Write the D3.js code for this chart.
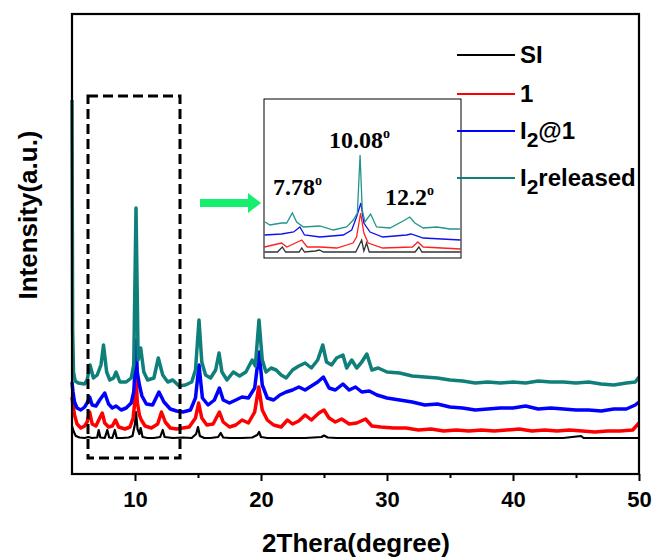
<!DOCTYPE html>
<html><head><meta charset="utf-8">
<script src="https://cdn.jsdelivr.net/npm/d3@7/dist/d3.min.js"></script>
<style>body{margin:0;background:#fff}svg{display:block}</style>
</head><body>
<svg id="c" width="655" height="557"></svg>
<script>
// ---- data (2θ, intensity a.u.) ----
const seriesNames = ["SI", "1", "I2@1", "I2released"];
const seriesColors = ["#000000", "#ff0000", "#0000ff", "#0f7f7a"];
const xTicks = [10, 20, 30, 40, 50];
const xMinorTicks = [15, 25, 35, 45];

const dataSI = [[5.0,48],[5.15,42],[5.3,38],[5.6,36.5],[6.0,36],[6.3,37],[6.6,36],[7.0,36.5],[7.12,44],[7.25,36.5],[7.6,36],[7.8,44],[7.95,36.5],[8.2,36],[8.4,44],[8.55,36],[9.0,36],[9.5,36.5],[9.8,38],[10.0,50],[10.08,62],[10.2,45],[10.35,40],[10.45,46],[10.6,37],[11.0,36],[11.5,36],[12.0,37],[12.2,44],[12.35,37],[13.0,36],[13.8,36.5],[14.5,36],[14.85,40],[15.0,47],[15.15,38],[15.5,36],[16.0,36],[16.6,37],[16.8,41],[17.0,36.5],[17.5,36],[18.5,36],[19.3,36.5],[19.7,39],[19.85,42],[20.0,37],[20.5,36],[21.5,36],[22.5,36],[23.5,36],[24.8,37],[25.0,38.5],[25.3,36.5],[26,36],[27,36],[28,36],[29,36],[30,36],[32,36],[34,36],[36,36],[38,36],[40,36],[42,36],[44,36],[45.4,38],[45.6,36],[48,36],[50,36]];

const data1 = [[5.0,77],[5.08,69],[5.2,59],[5.4,50],[5.7,46],[6.0,48],[6.2,52],[6.4,62],[6.6,50],[6.9,48],[7.2,56],[7.4,61],[7.6,51],[7.9,47],[8.2,48],[8.45,54],[8.7,47],[9.2,45],[9.6,47],[9.85,56],[10.0,74],[10.08,99],[10.18,72],[10.35,59],[10.5,54],[10.8,48],[11.3,46],[11.8,50],[12.1,62],[12.4,52],[12.8,46],[13.3,45],[13.8,46],[14.3,47],[14.8,56],[15.05,71],[15.3,56],[15.7,49],[16.2,50],[16.7,62],[17.0,52],[17.5,47],[18.0,49],[18.5,54],[19.0,51],[19.5,62],[19.82,87],[20.1,64],[20.5,54],[21.0,49],[21.6,47],[22.1,54],[22.5,50],[23.0,53],[23.5,59],[24.0,54],[24.6,61],[25.0,64],[25.4,56],[25.9,52],[26.4,55],[27.0,50],[27.6,51],[28.3,55],[28.8,48],[29.5,47],[30.5,46],[31.5,46],[32.5,44],[33.5,45],[34.5,43],[35.5,44],[36.5,43],[37.5,44],[38.5,43],[39.5,44],[40.5,45],[41.5,43],[42.5,44],[43.5,43],[44.5,44],[45.5,43],[46.5,42],[47.5,43],[48.5,43],[49.5,44],[50.0,51]];

const dataI2 = [[5.0,92],[5.08,82],[5.2,72],[5.4,66],[5.7,64],[6.0,67],[6.2,71],[6.4,77],[6.6,69],[6.9,68],[7.2,74],[7.6,81],[7.9,70],[8.2,66],[8.5,68],[8.9,64],[9.3,66],[9.7,71],[9.9,82],[10.0,104],[10.08,134],[10.18,102],[10.35,89],[10.55,78],[10.9,70],[11.4,69],[11.9,82],[12.3,72],[12.8,65],[13.3,63],[13.8,62],[14.4,64],[14.8,76],[15.08,109],[15.35,76],[15.8,69],[16.3,74],[16.7,86],[17.0,74],[17.5,71],[18.0,74],[18.5,77],[19.0,76],[19.5,86],[19.85,122],[20.1,89],[20.5,76],[21.0,74],[21.5,79],[22.0,82],[22.5,84],[23.0,87],[23.5,84],[24.0,88],[24.5,92],[24.95,97],[25.4,86],[25.9,84],[26.5,90],[27.0,84],[27.5,87],[28.0,82],[28.6,83],[29.2,79],[30.0,76],[31.0,74],[32.0,72],[33.0,69],[34.0,70],[35.0,67],[36.0,66],[37.0,64],[38.0,65],[39.0,66],[40.0,66],[41.0,68],[42.0,65],[43.0,66],[44.0,65],[45.0,64],[46.0,64],[47.0,63],[48.0,65],[49.0,65],[49.7,69],[50.0,72]];

const dataRel = [[5.0,374],[5.05,144],[5.12,102],[5.25,93],[5.5,91],[6.0,90],[6.2,94],[6.43,109],[6.7,96],[7.0,99],[7.3,109],[7.5,129],[7.75,102],[8.0,94],[8.3,96],[8.5,102],[8.8,92],[9.3,92],[9.7,96],[9.9,109],[10.08,266],[10.25,114],[10.45,126],[10.7,102],[11.0,94],[11.5,96],[11.85,116],[12.2,99],[12.6,92],[13.0,94],[13.5,88],[14.0,89],[14.5,92],[14.8,104],[15.08,154],[15.3,112],[15.6,99],[16.0,96],[16.4,104],[16.67,121],[16.9,102],[17.3,94],[17.8,102],[18.3,98],[18.8,102],[19.3,114],[19.55,108],[19.84,154],[20.1,114],[20.4,102],[20.8,106],[21.2,104],[21.6,99],[22.0,96],[22.5,104],[23.0,108],[23.5,111],[24.0,106],[24.5,114],[24.9,129],[25.2,112],[25.6,109],[26.0,116],[26.5,119],[26.8,106],[27.2,114],[27.6,106],[28.0,112],[28.4,120],[28.8,104],[29.3,106],[30.0,102],[31.0,101],[32.0,98],[33.0,97],[34.0,96],[35.0,94],[36.0,93],[37.0,91],[38.0,92],[39.0,91],[40.0,92],[41.0,91],[42.0,93],[43.0,92],[44.0,92],[45.0,91],[46.0,92],[47.0,90],[48.0,89],[49.0,91],[49.7,92],[50.0,97]];

// inset (zoomed 2θ window)
const insetSI = [[6.52,6],[7.0,6],[7.18,11],[7.3,6],[7.8,6],[7.9,10],[8.0,6],[8.4,7],[8.55,8],[8.7,6],[9.9,6],[10.12,18],[10.2,7],[10.3,15],[10.4,6],[12.1,6],[12.24,11],[12.35,6],[13.78,6]];
const inset1 = [[6.52,11],[7.15,15],[7.35,11],[7.9,18],[8.1,11],[8.57,11],[9.2,10],[9.8,15],[9.93,21],[10.08,45],[10.2,25],[10.36,15],[10.9,10],[12.0,11],[12.2,16],[12.4,11],[13.78,9]];
const insetI2 = [[6.52,23],[7.15,24],[7.6,26],[7.83,31],[8.0,23],[8.57,21],[9.44,23],[9.75,28],[9.93,41],[10.09,55],[10.2,35],[10.43,26],[10.9,21],[11.78,23],[11.95,24],[12.4,20],[13.78,18]];
const insetRel = [[6.54,36],[6.72,33],[7.15,35],[7.34,35],[7.55,45],[7.71,36],[7.96,31],[8.57,32],[9.07,28],[9.56,31],[9.81,38],[9.96,45],[10.06,103],[10.14,48],[10.24,36],[10.45,44],[10.67,31],[11.17,30],[11.72,38],[11.9,41],[12.09,35],[12.4,30],[12.9,31],[13.39,29],[13.76,29]];

const mainSeries = [dataSI, data1, dataI2, dataRel];
const insetSeries = [insetSI, inset1, insetI2, insetRel];

// ---- drawing ----
const svg = d3.select("#c");
const x = d3.scaleLinear().domain([5, 50]).range([72, 639]);
const y = d3.scaleLinear().domain([0, 460]).range([474, 14]);

const line = d3.line().x(d => x(d[0])).y(d => y(d[1]));
const widths = [2.2, 3.5, 3.5, 3.5];
mainSeries.forEach((s, i) => {
  svg.append("path").datum(s).attr("d", line)
    .attr("fill", "none").attr("stroke", seriesColors[i])
    .attr("stroke-width", widths[i]).attr("stroke-linejoin", "round");
});

// frame
svg.append("rect").attr("x", 72).attr("y", 14).attr("width", 567).attr("height", 460)
  .attr("fill", "none").attr("stroke", "#000").attr("stroke-width", 2.2);

// axes
const ax = svg.append("g").attr("transform", "translate(0,474)")
  .call(d3.axisBottom(x).tickValues(xTicks).tickSize(7).tickPadding(10).tickFormat(d3.format("d")));
ax.select(".domain").remove();
ax.selectAll("line").attr("stroke-width", 2);
ax.selectAll("text").attr("font-family", "Liberation Sans, Arial, sans-serif")
  .attr("font-weight", "bold").attr("font-size", 22).attr("fill", "#000");
const axm = svg.append("g").attr("transform", "translate(0,474)")
  .call(d3.axisBottom(x).tickValues(xMinorTicks).tickSize(4).tickFormat(""));
axm.select(".domain").remove();
axm.selectAll("line").attr("stroke-width", 2);

// axis titles
svg.append("text").attr("x", 356).attr("y", 552).attr("text-anchor", "middle")
  .attr("font-family", "Liberation Sans, Arial, sans-serif").attr("font-weight", "bold")
  .attr("font-size", 26).text("2Thera(degree)");
svg.append("text").attr("transform", "translate(37,215) rotate(-90)").attr("text-anchor", "middle")
  .attr("font-family", "Liberation Sans, Arial, sans-serif").attr("font-weight", "bold")
  .attr("font-size", 26).text("Intensity(a.u.)");

// dashed box
svg.append("rect").attr("x", 88).attr("y", 96).attr("width", 92).attr("height", 362)
  .attr("fill", "none").attr("stroke", "#000").attr("stroke-width", 3)
  .attr("stroke-dasharray", "10,5");

// green arrow
svg.append("path").attr("d", "M200,199 L248,199 L248,193 L261,203 L248,213 L248,207 L200,207 Z")
  .attr("fill", "#14ef6e");

// inset
const ix = d3.scaleLinear().domain([6.5, 13.8]).range([264, 461]);
const iy = d3.scaleLinear().domain([0, 159]).range([258, 99]);
const iline = d3.line().x(d => ix(d[0])).y(d => iy(d[1]));
const insetColors = ["#333333", "#ff2020", "#1010ee", "#23948e"];
insetSeries.forEach((s, i) => {
  svg.append("path").datum(s).attr("d", iline).attr("fill", "none")
    .attr("stroke", insetColors[i]).attr("stroke-width", 1.3);
});
svg.append("rect").attr("x", 264).attr("y", 99).attr("width", 197).attr("height", 159)
  .attr("fill", "none").attr("stroke", "#000").attr("stroke-width", 1);

const insetLabels = [["10.08", 329, 148], ["7.78", 273, 195], ["12.2", 385, 205]];
insetLabels.forEach(l => {
  const t = svg.append("text").attr("x", l[1]).attr("y", l[2])
    .attr("font-family", "Liberation Serif, Times New Roman, serif").attr("font-weight", "bold")
    .attr("font-size", 24);
  t.append("tspan").text(l[0]);
  t.append("tspan").attr("dy", -10).attr("font-size", 14).text("o");
});

// legend
const legY = [55, 94, 131, 178];
const lg = svg.append("g").attr("font-family", "Liberation Sans, Arial, sans-serif")
  .attr("font-weight", "bold").attr("font-size", 24);
seriesNames.forEach((n, i) => {
  lg.append("line").attr("x1", 457).attr("x2", 515).attr("y1", legY[i]).attr("y2", legY[i])
    .attr("stroke", seriesColors[i]).attr("stroke-width", 2);
  const t = lg.append("text").attr("x", 520).attr("y", legY[i] + 8);
  if (n.startsWith("I2")) {
    t.append("tspan").text("I");
    t.append("tspan").attr("dy", 8).attr("font-size", 21).text("2");
    t.append("tspan").attr("dy", -8).text(n.slice(2));
  } else {
    t.text(n);
  }
});
</script>
</body></html>
